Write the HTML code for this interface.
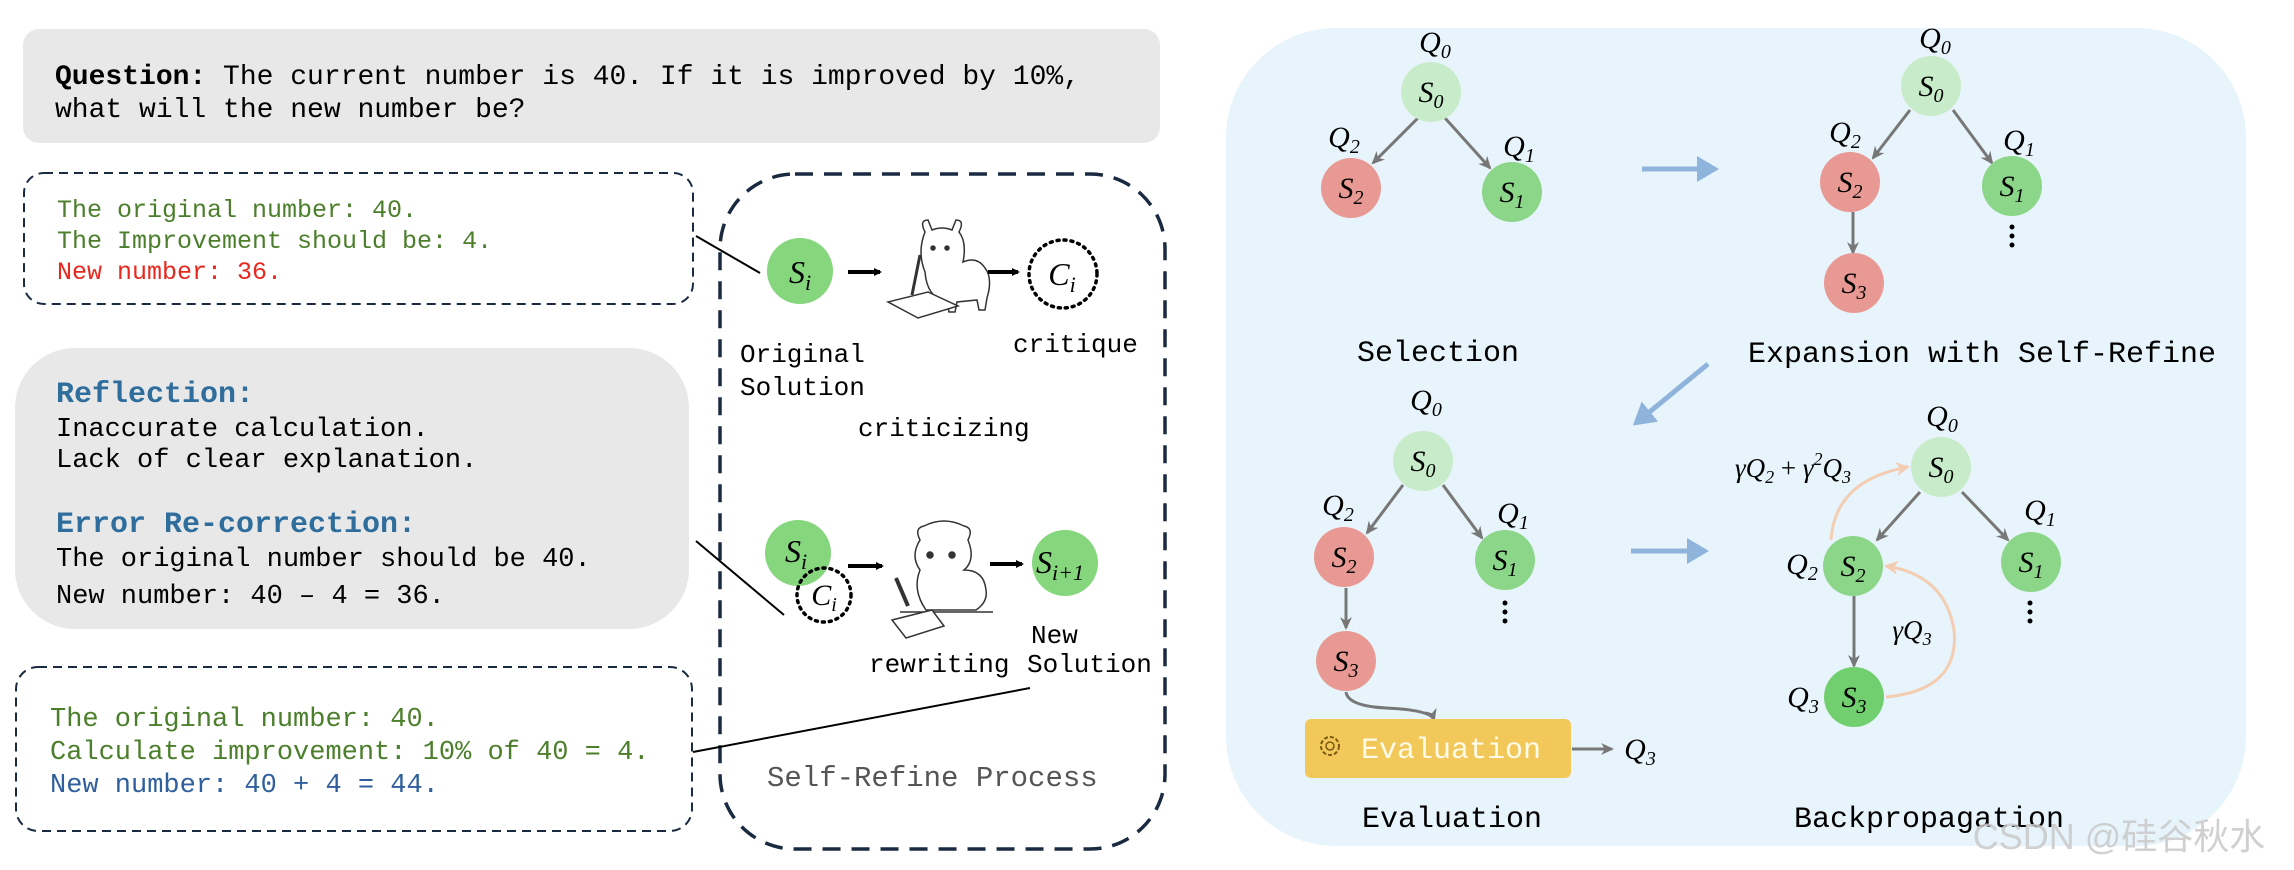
<!DOCTYPE html>
<html><head><meta charset="utf-8"><style>
html,body{margin:0;padding:0;background:#fff;}
svg{display:block;}
.m{font-family:"Liberation Mono",monospace;}
.s{font-family:"Liberation Serif",serif;font-style:italic;}
</style></head><body>
<svg width="2294" height="870" viewBox="0 0 2294 870" xmlns="http://www.w3.org/2000/svg">
<defs>
<marker id="ab" markerWidth="8" markerHeight="8" refX="6" refY="4" orient="auto" markerUnits="userSpaceOnUse"><path d="M0,0 L8,4 L0,8 z" fill="#000"/></marker>
<marker id="ag" markerWidth="14" markerHeight="14" refX="11" refY="7" orient="auto" markerUnits="userSpaceOnUse"><path d="M0,1 L13,7 L0,13 L4,7 z" fill="#777"/></marker>
<marker id="ao" markerWidth="16" markerHeight="16" refX="12" refY="8" orient="auto" markerUnits="userSpaceOnUse"><path d="M0,1 L14,8 L0,15 L4,8 z" fill="#f2cdb2"/></marker>
<marker id="abl" markerWidth="22" markerHeight="26" refX="18" refY="13" orient="auto" markerUnits="userSpaceOnUse"><path d="M0,0 L22,13 L0,26 z" fill="#8fb4dc"/></marker>
</defs>

<!-- Question box -->
<rect x="23" y="29" width="1137" height="114" rx="16" fill="#e8e8e8"/>
<text class="m" font-size="28" x="55" y="84" fill="#000"><tspan font-weight="bold">Question:</tspan> The current number is 40. If it is improved by 10%,</text>
<text class="m" font-size="28" x="55" y="117" fill="#000">what will the new number be?</text>

<!-- Box 1 -->
<rect x="24" y="173" width="669" height="131" rx="20" fill="none" stroke="#1a2a40" stroke-width="2" stroke-dasharray="9,6"/>
<g class="m" font-size="25">
<text x="57" y="217" fill="#4c7f2b">The original number: 40.</text>
<text x="57" y="248" fill="#4c7f2b">The Improvement should be: 4.</text>
<text x="57" y="279" fill="#e8281e">New number: 36.</text>
</g>

<!-- Reflection box -->
<rect x="15" y="348" width="674" height="281" rx="60" fill="#e8e8e8"/>
<g class="m">
<text x="56" y="402" font-size="30" font-weight="bold" fill="#2f6e9c">Reflection:</text>
<text x="56" y="436" font-size="27">Inaccurate calculation.</text>
<text x="56" y="467" font-size="27">Lack of clear explanation.</text>
<text x="56" y="532" font-size="30" font-weight="bold" fill="#2f6e9c">Error Re-correction:</text>
<text x="56" y="566" font-size="27">The original number should be 40.</text>
<text x="56" y="603" font-size="27">New number: 40 – 4 = 36.</text>
</g>

<!-- Box 3 -->
<rect x="16" y="667" width="676" height="164" rx="22" fill="none" stroke="#1a2a40" stroke-width="2" stroke-dasharray="9,6"/>
<g class="m" font-size="27">
<text x="50" y="726" fill="#4c7f2b">The original number: 40.</text>
<text x="50" y="759" fill="#4c7f2b">Calculate improvement: 10% of 40 = 4.</text>
<text x="50" y="792" fill="#2f5f9c">New number: 40 + 4 = 44.</text>
</g>

<!-- Self-refine dashed box -->
<rect x="720" y="174" width="445" height="675" rx="75" fill="none" stroke="#1a2a40" stroke-width="3.5" stroke-dasharray="18,11"/>

<!-- connector lines -->
<line x1="696" y1="236" x2="760" y2="273" stroke="#000" stroke-width="2"/>
<line x1="696" y1="541" x2="784" y2="615" stroke="#000" stroke-width="2"/>
<line x1="693" y1="752" x2="1030" y2="688" stroke="#000" stroke-width="2"/>

<!-- top row -->
<circle cx="800" cy="271" r="33" fill="#86d67e"/>
<text class="s" x="800" y="283" font-size="32" text-anchor="middle">S<tspan font-size="22" dy="7">i</tspan></text>
<line x1="848" y1="272" x2="880" y2="272" stroke="#000" stroke-width="4" marker-end="url(#ab)"/>
<!-- llama 1 -->
<g stroke="#333" stroke-width="1.5" fill="#fff">
<path d="M925,232 q-6,-12 3,-12 l4,10 q10,-4 20,0 l4,-10 q9,0 3,12 q8,10 4,30 q14,-6 22,6 q8,10 2,30 l-2,12 l-6,0 l-2,-10 l-20,2 l-2,10 l-6,0 l-2,-10 q-20,-4 -22,-30 q-8,-20 0,-40 z"/>
<circle cx="933" cy="248" r="2" fill="#333"/><circle cx="947" cy="248" r="2" fill="#333"/>
<path d="M888,302 l40,-10 l30,14 l-40,12 z"/>
<path d="M920,255 l-8,40" stroke-width="3"/>
</g>
<line x1="988" y1="272" x2="1018" y2="272" stroke="#000" stroke-width="4" marker-end="url(#ab)"/>
<circle cx="1063" cy="274" r="34" fill="none" stroke="#000" stroke-width="3.5" stroke-dasharray="2,5" stroke-linecap="round"/>
<text class="s" x="1062" y="285" font-size="32" text-anchor="middle">C<tspan font-size="22" dy="7">i</tspan></text>

<g class="m" font-size="26">
<text x="740" y="362">Original</text>
<text x="740" y="395">Solution</text>
<text x="1013" y="352">critique</text>
<text x="858" y="436">criticizing</text>
</g>

<!-- bottom row -->
<circle cx="798" cy="553" r="33" fill="#86d67e"/>
<text class="s" x="796" y="562" font-size="32" text-anchor="middle">S<tspan font-size="22" dy="7">i</tspan></text>
<circle cx="824" cy="595" r="27" fill="#fff" fill-opacity="0" stroke="#000" stroke-width="3.5" stroke-dasharray="2,5" stroke-linecap="round"/>
<text class="s" x="824" y="605" font-size="30" text-anchor="middle">C<tspan font-size="20" dy="6">i</tspan></text>
<line x1="848" y1="566" x2="882" y2="566" stroke="#000" stroke-width="4" marker-end="url(#ab)"/>
<g stroke="#333" stroke-width="1.5" fill="#fff">
<path d="M920,540 q-6,-12 4,-14 q20,-10 40,0 q10,2 4,14 q8,20 -4,30 q20,0 22,20 q2,12 -10,20 l-50,0 q-14,-20 -6,-40 q-10,-14 0,-30 z"/>
<circle cx="930" cy="555" r="3" fill="#333"/><circle cx="952" cy="555" r="3" fill="#333"/>
<line x1="900" y1="612" x2="993" y2="612"/>
<path d="M892,620 l40,-10 l12,16 l-38,12 z"/>
<path d="M896,578 l12,28" stroke-width="4"/>
</g>
<line x1="990" y1="564" x2="1022" y2="564" stroke="#000" stroke-width="4" marker-end="url(#ab)"/>
<circle cx="1065" cy="563" r="33" fill="#86d67e"/>
<text class="s" x="1060" y="573" font-size="32" text-anchor="middle">S<tspan font-size="22" dy="7">i+1</tspan></text>

<g class="m" font-size="26">
<text x="1031" y="643">New</text>
<text x="869" y="672">rewriting</text>
<text x="1027" y="672">Solution</text>
</g>
<text class="m" x="767" y="786" font-size="29" fill="#555">Self-Refine Process</text>

<!-- Right panel -->
<rect x="1226" y="28" width="1020" height="818" rx="110" fill="#e8f4fb"/>

<g class="s" font-size="30">
<!-- Selection -->
<line x1="1418" y1="118" x2="1373" y2="163" stroke="#777" stroke-width="3" marker-end="url(#ag)"/>
<line x1="1445" y1="118" x2="1490" y2="168" stroke="#777" stroke-width="3" marker-end="url(#ag)"/>
<circle cx="1431" cy="92" r="30" fill="#c8ebc9"/><text x="1431" y="102" text-anchor="middle">S<tspan font-size="20" dy="6">0</tspan></text>
<circle cx="1351" cy="188" r="30" fill="#e89993"/><text x="1351" y="198" text-anchor="middle">S<tspan font-size="20" dy="6">2</tspan></text>
<circle cx="1512" cy="192" r="30" fill="#8cd68a"/><text x="1512" y="202" text-anchor="middle">S<tspan font-size="20" dy="6">1</tspan></text>
<text x="1435" y="52" text-anchor="middle">Q<tspan font-size="20" dy="6">0</tspan></text>
<text x="1344" y="147" text-anchor="middle">Q<tspan font-size="20" dy="6">2</tspan></text>
<text x="1519" y="156" text-anchor="middle">Q<tspan font-size="20" dy="6">1</tspan></text>

<!-- Expansion -->
<line x1="1910" y1="110" x2="1873" y2="158" stroke="#777" stroke-width="3" marker-end="url(#ag)"/>
<line x1="1953" y1="110" x2="1992" y2="163" stroke="#777" stroke-width="3" marker-end="url(#ag)"/>
<line x1="1853" y1="212" x2="1853" y2="253" stroke="#777" stroke-width="3" marker-end="url(#ag)"/>
<circle cx="1931" cy="86" r="30" fill="#c8ebc9"/><text x="1931" y="96" text-anchor="middle">S<tspan font-size="20" dy="6">0</tspan></text>
<circle cx="1850" cy="182" r="30" fill="#e89993"/><text x="1850" y="192" text-anchor="middle">S<tspan font-size="20" dy="6">2</tspan></text>
<circle cx="2012" cy="186" r="30" fill="#8cd68a"/><text x="2012" y="196" text-anchor="middle">S<tspan font-size="20" dy="6">1</tspan></text>
<circle cx="1854" cy="283" r="30" fill="#e89993"/><text x="1854" y="293" text-anchor="middle">S<tspan font-size="20" dy="6">3</tspan></text>
<text x="1935" y="48" text-anchor="middle">Q<tspan font-size="20" dy="6">0</tspan></text>
<text x="1845" y="142" text-anchor="middle">Q<tspan font-size="20" dy="6">2</tspan></text>
<text x="2019" y="150" text-anchor="middle">Q<tspan font-size="20" dy="6">1</tspan></text>

<!-- Evaluation -->
<line x1="1403" y1="485" x2="1367" y2="533" stroke="#777" stroke-width="3" marker-end="url(#ag)"/>
<line x1="1443" y1="485" x2="1482" y2="538" stroke="#777" stroke-width="3" marker-end="url(#ag)"/>
<line x1="1346" y1="588" x2="1346" y2="628" stroke="#777" stroke-width="3" marker-end="url(#ag)"/>
<path d="M1346,692 q2,14 40,16 q45,2 48,12" fill="none" stroke="#777" stroke-width="3" marker-end="url(#ag)"/>
<circle cx="1423" cy="461" r="30" fill="#c8ebc9"/><text x="1423" y="471" text-anchor="middle">S<tspan font-size="20" dy="6">0</tspan></text>
<circle cx="1344" cy="557" r="30" fill="#e89993"/><text x="1344" y="567" text-anchor="middle">S<tspan font-size="20" dy="6">2</tspan></text>
<circle cx="1505" cy="560" r="30" fill="#8cd68a"/><text x="1505" y="570" text-anchor="middle">S<tspan font-size="20" dy="6">1</tspan></text>
<circle cx="1346" cy="661" r="30" fill="#e89993"/><text x="1346" y="671" text-anchor="middle">S<tspan font-size="20" dy="6">3</tspan></text>
<text x="1426" y="410" text-anchor="middle">Q<tspan font-size="20" dy="6">0</tspan></text>
<text x="1338" y="515" text-anchor="middle">Q<tspan font-size="20" dy="6">2</tspan></text>
<text x="1513" y="523" text-anchor="middle">Q<tspan font-size="20" dy="6">1</tspan></text>
<line x1="1572" y1="749" x2="1612" y2="749" stroke="#777" stroke-width="3" marker-end="url(#ag)"/>
<text x="1640" y="759" text-anchor="middle">Q<tspan font-size="20" dy="6">3</tspan></text>

<!-- Backprop -->
<line x1="1920" y1="492" x2="1877" y2="540" stroke="#777" stroke-width="3" marker-end="url(#ag)"/>
<line x1="1962" y1="492" x2="2008" y2="540" stroke="#777" stroke-width="3" marker-end="url(#ag)"/>
<line x1="1854" y1="596" x2="1854" y2="666" stroke="#777" stroke-width="3" marker-end="url(#ag)"/>
<path d="M1831,540 Q1835,480 1908,467" fill="none" stroke="#f2cdb2" stroke-width="3" marker-end="url(#ao)"/>
<path d="M1886,697 Q1960,690 1954,630 Q1945,575 1886,566" fill="none" stroke="#f2cdb2" stroke-width="3" marker-end="url(#ao)"/>
<circle cx="1941" cy="467" r="30" fill="#c8ebc9"/><text x="1941" y="477" text-anchor="middle">S<tspan font-size="20" dy="6">0</tspan></text>
<circle cx="1853" cy="566" r="30" fill="#8cd68a"/><text x="1853" y="576" text-anchor="middle">S<tspan font-size="20" dy="6">2</tspan></text>
<circle cx="2031" cy="562" r="30" fill="#8cd68a"/><text x="2031" y="572" text-anchor="middle">S<tspan font-size="20" dy="6">1</tspan></text>
<circle cx="1854" cy="697" r="30" fill="#72cf6f"/><text x="1854" y="707" text-anchor="middle">S<tspan font-size="20" dy="6">3</tspan></text>
<text x="1942" y="426" text-anchor="middle">Q<tspan font-size="20" dy="6">0</tspan></text>
<text x="2040" y="520" text-anchor="middle">Q<tspan font-size="20" dy="6">1</tspan></text>
<text x="1802" y="574" text-anchor="middle">Q<tspan font-size="20" dy="6">2</tspan></text>
<text x="1803" y="707" text-anchor="middle">Q<tspan font-size="20" dy="6">3</tspan></text>
<text x="1793" y="477" text-anchor="middle" font-size="27">γQ<tspan font-size="18" dy="6">2</tspan><tspan dy="-6" font-style="normal"> + </tspan>γ<tspan font-size="18" dy="-12">2</tspan><tspan dy="12">Q</tspan><tspan font-size="18" dy="6">3</tspan></text>
<text x="1912" y="639" text-anchor="middle" font-size="27">γQ<tspan font-size="18" dy="6">3</tspan></text>
</g>

<!-- dots -->
<g fill="#000">
<circle cx="2012" cy="227" r="2.5"/><circle cx="2012" cy="236" r="2.5"/><circle cx="2012" cy="245" r="2.5"/>
<circle cx="1505" cy="603" r="2.5"/><circle cx="1505" cy="612" r="2.5"/><circle cx="1505" cy="621" r="2.5"/>
<circle cx="2030" cy="603" r="2.5"/><circle cx="2030" cy="612" r="2.5"/><circle cx="2030" cy="621" r="2.5"/>
</g>

<!-- Evaluation box -->
<rect x="1305" y="719" width="266" height="59" rx="6" fill="#f3c85a"/>
<circle cx="1330" cy="746" r="9" fill="none" stroke="#7a5a10" stroke-width="2" stroke-dasharray="4,2"/>
<circle cx="1330" cy="746" r="4" fill="none" stroke="#7a5a10" stroke-width="1.5"/>
<text class="m" x="1361" y="758" font-size="30" fill="#fffbe8">Evaluation</text>

<!-- blue arrows -->
<line x1="1642" y1="169" x2="1715" y2="169" stroke="#8fb4dc" stroke-width="5" marker-end="url(#abl)"/>
<line x1="1708" y1="364" x2="1636" y2="423" stroke="#8fb4dc" stroke-width="5" marker-end="url(#abl)"/>
<line x1="1631" y1="551" x2="1705" y2="551" stroke="#8fb4dc" stroke-width="5" marker-end="url(#abl)"/>

<g class="m" font-size="30" text-anchor="middle">
<text x="1438" y="361">Selection</text>
<text x="1982" y="362">Expansion with Self-Refine</text>
<text x="1452" y="827">Evaluation</text>
<text x="1929" y="827">Backpropagation</text>
</g>
<text x="2119" y="849" font-family="Liberation Sans, 'Noto Sans CJK SC', sans-serif" font-size="36" fill="#c8c8c8" fill-opacity="0.85" text-anchor="middle">CSDN @硅谷秋水</text>
</svg>
</body></html>
